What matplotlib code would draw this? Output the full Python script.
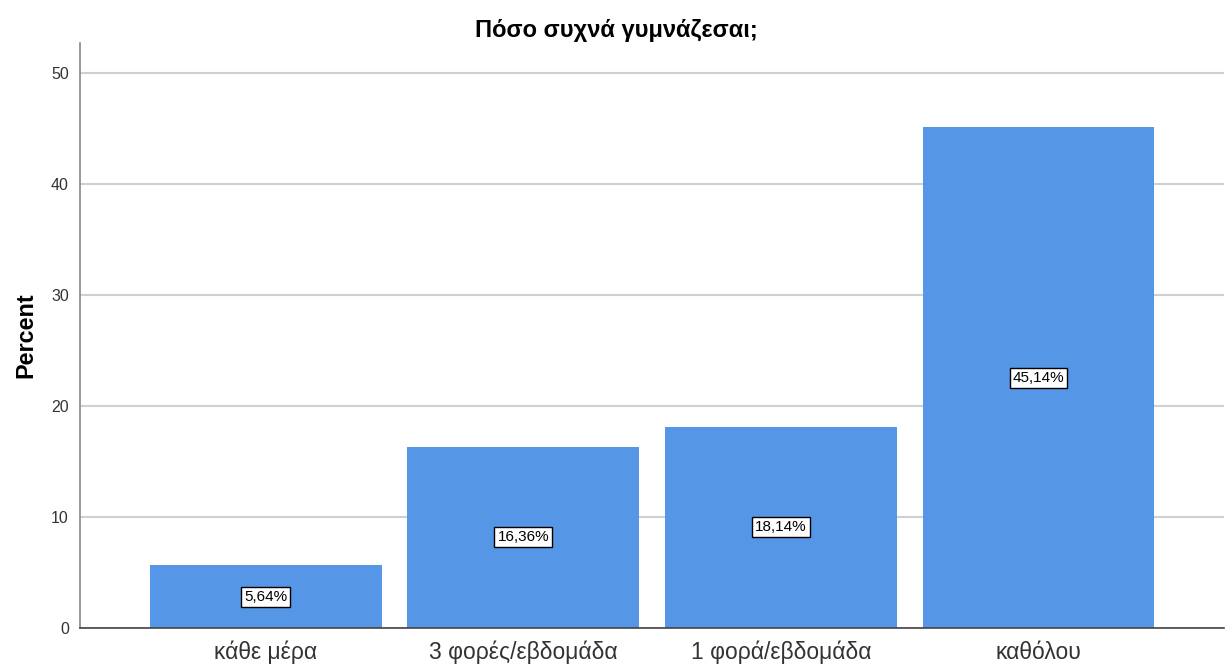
import matplotlib.pyplot as plt

plt.rcParams['font.family'] = ['Liberation Sans', 'DejaVu Sans']

categories = ["κάθε μέρα", "3 φορές/εβδομάδα", "1 φορά/εβδομάδα", "καθόλου"]
percents = [5.64, 16.36, 18.14, 45.14]
bar_labels = ["5,64%", "16,36%", "18,14%", "45,14%"]
yticks = [0, 10, 20, 30, 40, 50]

fig = plt.figure(figsize=(12.32, 6.66), dpi=100)
ax = fig.add_axes([0.065, 0.057, 0.9285, 0.878])

x = range(len(categories))
ax.bar(x, percents, width=0.9, color="#5596E6", zorder=2)

# boxed value labels halfway up each bar
for i, (v, lab) in enumerate(zip(percents, bar_labels)):
    ax.text(i, v / 2, lab, ha="center", va="center", fontsize=11, zorder=3,
            bbox=dict(boxstyle="square,pad=0.2", facecolor="white", edgecolor="black", linewidth=1))

ax.set_xlim(-0.72, 3.72)
ax.set_ylim(0, 52.7)
ax.set_yticks(yticks)
ax.set_xticks(list(x))
ax.set_xticklabels(categories, fontsize=16.5, color="#333333")
ax.tick_params(axis="y", labelsize=11.5, length=0, pad=8, labelcolor="#333333")
ax.tick_params(axis="x", length=0, pad=9)
ax.grid(axis="y", color="#D0D0D0", linewidth=1.5, zorder=0)

for s in ["top", "right"]:
    ax.spines[s].set_visible(False)
ax.spines["left"].set_color("#888888")
ax.spines["bottom"].set_color("#444444")
ax.spines["left"].set_linewidth(1.2)
ax.spines["bottom"].set_linewidth(1.2)

ax.set_ylabel("Percent", fontsize=16.8, fontweight="bold", labelpad=10)
fig.text(0.5, 1 - 31 / 666, "Πόσο συχνά γυμνάζεσαι;", fontsize=17, fontweight="bold",
         ha="center", va="center")

fig.savefig("out.png", dpi=100)
